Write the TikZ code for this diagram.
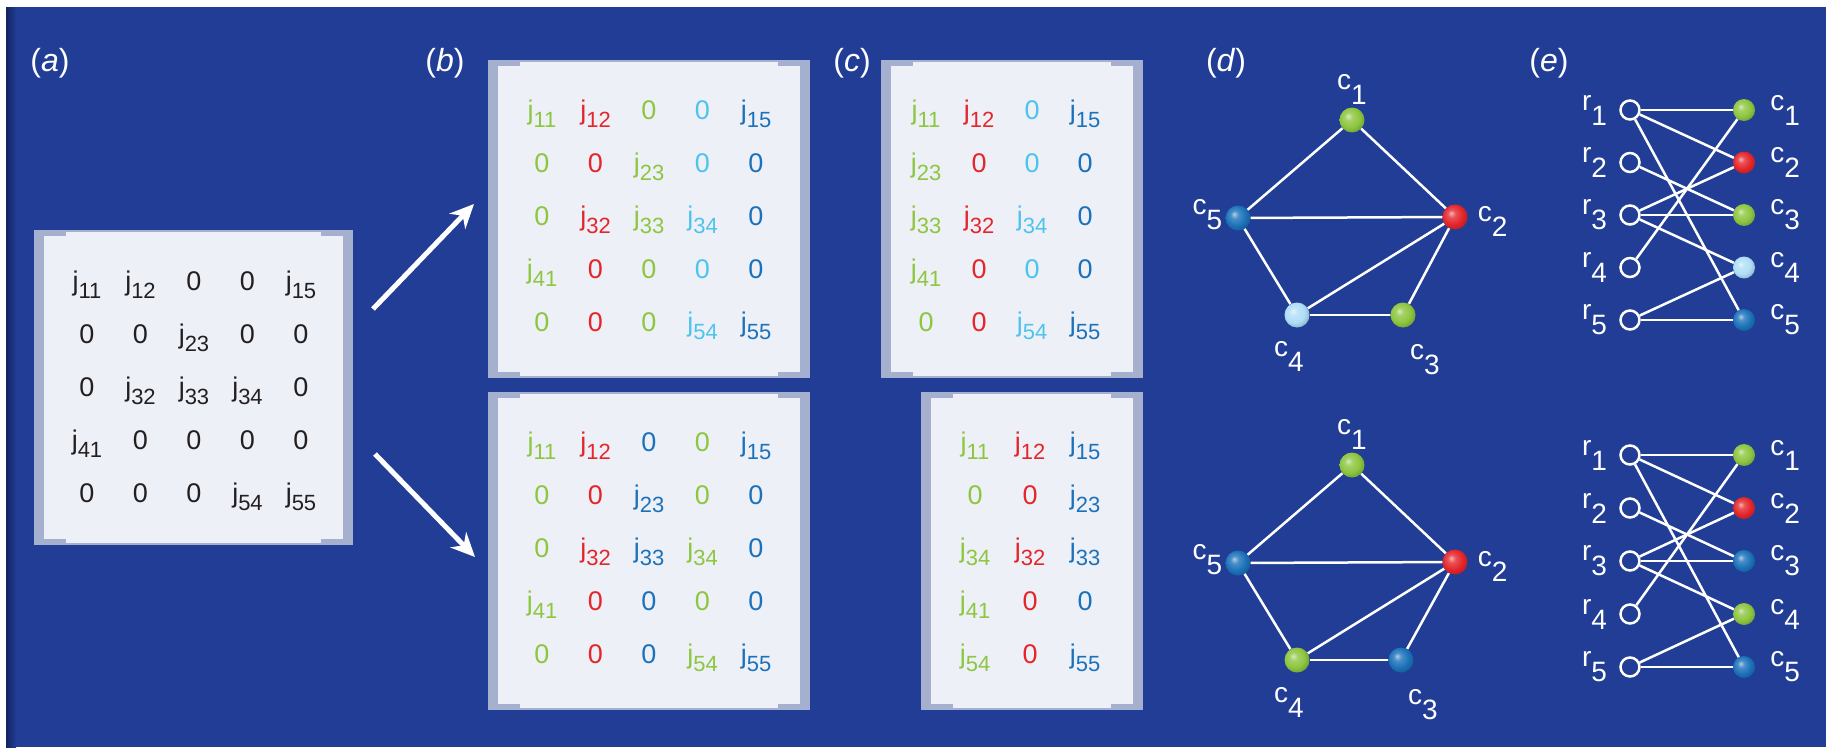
\documentclass[tikz,border=0pt]{standalone}
\usepackage{fontspec}
\setmainfont{Liberation Sans}
\usetikzlibrary{positioning,matrix,arrows.meta}

\definecolor{bgblue}{RGB}{33,61,150}
\definecolor{bgdark}{RGB}{20,35,95}
\definecolor{boxbg}{RGB}{238,240,248}
\definecolor{brk}{RGB}{165,175,206}
\definecolor{ink}{RGB}{35,31,32}
\definecolor{tgreen}{RGB}{141,198,63}
\definecolor{tred}{RGB}{228,38,42}
\definecolor{tcyan}{RGB}{78,196,236}
\definecolor{tblue}{RGB}{28,114,186}
\definecolor{bpale}{RGB}{175,222,246}

% softer ball shading than tikz's own
\makeatletter
\pgfdeclareradialshading[tikz@ball]{softball}{\pgfqpoint{-8bp}{8bp}}{%
  color(0bp)=(tikz@ball!35!white); color(8bp)=(tikz@ball!80!white);
  color(20bp)=(tikz@ball); color(30bp)=(tikz@ball!80!black);
  color(50bp)=(tikz@ball!60!black)}
\makeatother

% j with subscript, and graph labels
\newcommand{\jj}[1]{j\raisebox{-8pt}{\fontsize{22}{22}\selectfont #1}}
\newcommand{\lab}[2]{#1\raisebox{-15pt}{#2}}

% grey brackets on a matrix panel
\newcommand{\brackets}[1]{%
  \fill[brk] (#1.north west) rectangle ([xshift=10pt]#1.south west);
  \fill[brk] (#1.north west) rectangle ([xshift=32pt,yshift=-6pt]#1.north west);
  \fill[brk] (#1.south west) rectangle ([xshift=32pt,yshift=6pt]#1.south west);
  \fill[brk] (#1.north east) rectangle ([xshift=-10pt]#1.south east);
  \fill[brk] (#1.north east) rectangle ([xshift=-32pt,yshift=-6pt]#1.north east);
  \fill[brk] (#1.south east) rectangle ([xshift=-32pt,yshift=6pt]#1.south east);
}

\tikzset{
  panel/.style={fill=boxbg, draw=brk, line width=1.5pt, inner sep=0pt},
  mat/.style={matrix of nodes,
    nodes={anchor=base, inner sep=0pt, font=\fontsize{27}{30}\selectfont},
    row sep={53pt,between origins}, column sep={#1,between origins}},
  mat/.default=53.5pt,
  plabel/.style={text=white, font=\fontsize{32}{34}\selectfont, inner sep=0pt, anchor=base},
  glabel/.style={text=white, font=\fontsize{28}{30}\selectfont, inner sep=0pt},
  ball/.style={circle, inner sep=0pt, minimum size=25pt},
  ballg/.style={ball, ball color=tgreen, shading=softball},
  ballr/.style={ball, ball color=tred, shading=softball},
  ballb/.style={ball, ball color=tblue, shading=softball},
  balll/.style={ball, ball color=bpale, shading=softball},
  rnode/.style={circle, draw=white, line width=2.5pt, fill=bgblue, inner sep=0pt, minimum size=19pt},
  link/.style={draw=white, line width=2.5pt},
  bigarrow/.style={draw=white, line width=5pt, -{Stealth[length=24pt,width=22pt]}}
}

\begin{document}
\begin{tikzpicture}[x=1pt,y=-1pt]
	\useasboundingbox (0,0) rectangle (1826,747);

	% background
	\fill[white] (0,0) rectangle (1826,747);
	\fill[bgblue] (6,7) rectangle (1826,747);
	\fill[left color=bgdark, right color=bgblue] (6,7) rectangle (16,747);

	% panel labels
	\node[plabel] (la) at (50,71) {(\textit{a})};
	\node[plabel] (lb) at (445,71) {(\textit{b})};
	\node[plabel] (lc) at (852,71) {(\textit{c})};
	\node[plabel] (ld) at (1226,71) {(\textit{d})};
	\node[plabel] (le) at (1549,71) {(\textit{e})};

	% (a) matrix
	\node[panel, minimum width=317pt, minimum height=313pt] (boxa) at (193.5,387.5) {};
	\brackets{boxa}
	\matrix[mat, nodes={text=ink}] (ma) at (194,390.4) {
		\jj{11} & \jj{12} & 0 & 0 & \jj{15} \\
		0 & 0 & \jj{23} & 0 & 0 \\
		0 & \jj{32} & \jj{33} & \jj{34} & 0 \\
		\jj{41} & 0 & 0 & 0 & 0 \\
		0 & 0 & 0 & \jj{54} & \jj{55} \\
	};

	% arrows
	\coordinate (up0) at (373,309);
	\coordinate (up1) at (474,204);
	\coordinate (dn0) at (375,454);
	\coordinate (dn1) at (475,557);
	\draw[bigarrow] (up0) -- (up1);
	\draw[bigarrow] (dn0) -- (dn1);

	% (b) matrices
	\node[panel, minimum width=320pt, minimum height=316pt] (boxbt) at (648.75,219) {};
	\brackets{boxbt}
	\matrix[mat, column 1/.style={nodes={text=tgreen}}, column 2/.style={nodes={text=tred}},
		column 3/.style={nodes={text=tgreen}}, column 4/.style={nodes={text=tcyan}},
		column 5/.style={nodes={text=tblue}}] (mbt) at (649,219.4) {
		\jj{11} & \jj{12} & 0 & 0 & \jj{15} \\
		0 & 0 & \jj{23} & 0 & 0 \\
		0 & \jj{32} & \jj{33} & \jj{34} & 0 \\
		\jj{41} & 0 & 0 & 0 & 0 \\
		0 & 0 & 0 & \jj{54} & \jj{55} \\
	};

	\node[panel, minimum width=320pt, minimum height=316pt] (boxbb) at (648.75,551) {};
	\brackets{boxbb}
	\matrix[mat, column 1/.style={nodes={text=tgreen}}, column 2/.style={nodes={text=tred}},
		column 3/.style={nodes={text=tblue}}, column 4/.style={nodes={text=tgreen}},
		column 5/.style={nodes={text=tblue}}] (mbb) at (649,551.4) {
		\jj{11} & \jj{12} & 0 & 0 & \jj{15} \\
		0 & 0 & \jj{23} & 0 & 0 \\
		0 & \jj{32} & \jj{33} & \jj{34} & 0 \\
		\jj{41} & 0 & 0 & 0 & 0 \\
		0 & 0 & 0 & \jj{54} & \jj{55} \\
	};

	% (c) matrices
	\node[panel, minimum width=260pt, minimum height=316pt] (boxct) at (1012,219) {};
	\brackets{boxct}
	\matrix[mat=53pt, column 1/.style={nodes={text=tgreen}}, column 2/.style={nodes={text=tred}},
		column 3/.style={nodes={text=tcyan}}, column 4/.style={nodes={text=tblue}}] (mct) at (1005.5,219.4) {
		\jj{11} & \jj{12} & 0 & \jj{15} \\
		\jj{23} & 0 & 0 & 0 \\
		\jj{33} & \jj{32} & \jj{34} & 0 \\
		\jj{41} & 0 & 0 & 0 \\
		0 & 0 & \jj{54} & \jj{55} \\
	};

	\node[panel, minimum width=220pt, minimum height=316pt] (boxcb) at (1032,551) {};
	\brackets{boxcb}
	\matrix[mat=55pt, column 1/.style={nodes={text=tgreen}}, column 2/.style={nodes={text=tred}},
		column 3/.style={nodes={text=tblue}}] (mcb) at (1030,551.4) {
		\jj{11} & \jj{12} & \jj{15} \\
		0 & 0 & \jj{23} \\
		\jj{34} & \jj{32} & \jj{33} \\
		\jj{41} & 0 & 0 \\
		\jj{54} & 0 & \jj{55} \\
	};

	% (d) column graphs
	\node[ballg] (dt1) at (1352,120) {};
	\node[ballr] (dt2) at (1455,217) {};
	\node[ballg] (dt3) at (1403,315) {};
	\node[balll] (dt4) at (1297,315) {};
	\node[ballb] (dt5) at (1238,218) {};
	\foreach \a/\b in {1/2,1/5,2/5,2/3,2/4,3/4,4/5}
		\draw[link] (dt\a) -- (dt\b);
	\node[glabel, above=3pt of dt1] (ldt1) {\lab{c}{1}};
	\node[glabel, right=10pt of dt2, yshift=-4pt] (ldt2) {\lab{c}{2}};
	\node[glabel, below=17pt of dt3, xshift=22pt] (ldt3) {\lab{c}{3}};
	\node[glabel, below=14pt of dt4, xshift=-8pt] (ldt4) {\lab{c}{4}};
	\node[glabel, left=3pt of dt5, yshift=3pt] (ldt5) {\lab{c}{5}};

	\begin{scope}[yshift=-345pt]
		\node[ballg] (db1) at (1352,120) {};
		\node[ballr] (db2) at (1455,217) {};
		\node[ballb] (db3) at (1401,315) {};
		\node[ballg] (db4) at (1297,315) {};
		\node[ballb] (db5) at (1238,218) {};
		\foreach \a/\b in {1/2,1/5,2/5,2/3,2/4,3/4,4/5}
			\draw[link] (db\a) -- (db\b);
		\node[glabel, above=3pt of db1] (ldb1) {\lab{c}{1}};
		\node[glabel, right=10pt of db2, yshift=-4pt] (ldb2) {\lab{c}{2}};
		\node[glabel, below=17pt of db3, xshift=22pt] (ldb3) {\lab{c}{3}};
		\node[glabel, below=15pt of db4, xshift=-8pt] (ldb4) {\lab{c}{4}};
		\node[glabel, left=3pt of db5, yshift=3pt] (ldb5) {\lab{c}{5}};
	\end{scope}

	% (e) bipartite graphs
	\foreach \i/\s in {1/ballg,2/ballr,3/ballg,4/balll,5/ballb} {
		\node[rnode] (rt\i) at (1630,{110+(\i-1)*52.5}) {};
		\node[\s, minimum size=22pt] (ct\i) at (1744,{110+(\i-1)*52.5}) {};
		\node[glabel, left=12pt of rt\i] (lrt\i) {\lab{r}{\i}};
		\node[glabel, right=15pt of ct\i] (lct\i) {\lab{c}{\i}};
	}
	\foreach \a/\b in {1/1,1/2,1/5,2/3,3/2,3/3,3/4,4/1,5/4,5/5}
		\draw[link] (rt\a) -- (ct\b);

	\foreach \i/\s in {1/ballg,2/ballr,3/ballb,4/ballg,5/ballb} {
		\node[rnode] (rb\i) at (1630,{455+(\i-1)*53}) {};
		\node[\s, minimum size=22pt] (cb\i) at (1744,{455+(\i-1)*53}) {};
		\node[glabel, left=12pt of rb\i] (lrb\i) {\lab{r}{\i}};
		\node[glabel, right=15pt of cb\i] (lcb\i) {\lab{c}{\i}};
	}
	\foreach \a/\b in {1/1,1/2,1/5,2/3,3/2,3/3,3/4,4/1,5/4,5/5}
		\draw[link] (rb\a) -- (cb\b);
\end{tikzpicture}
\end{document}
